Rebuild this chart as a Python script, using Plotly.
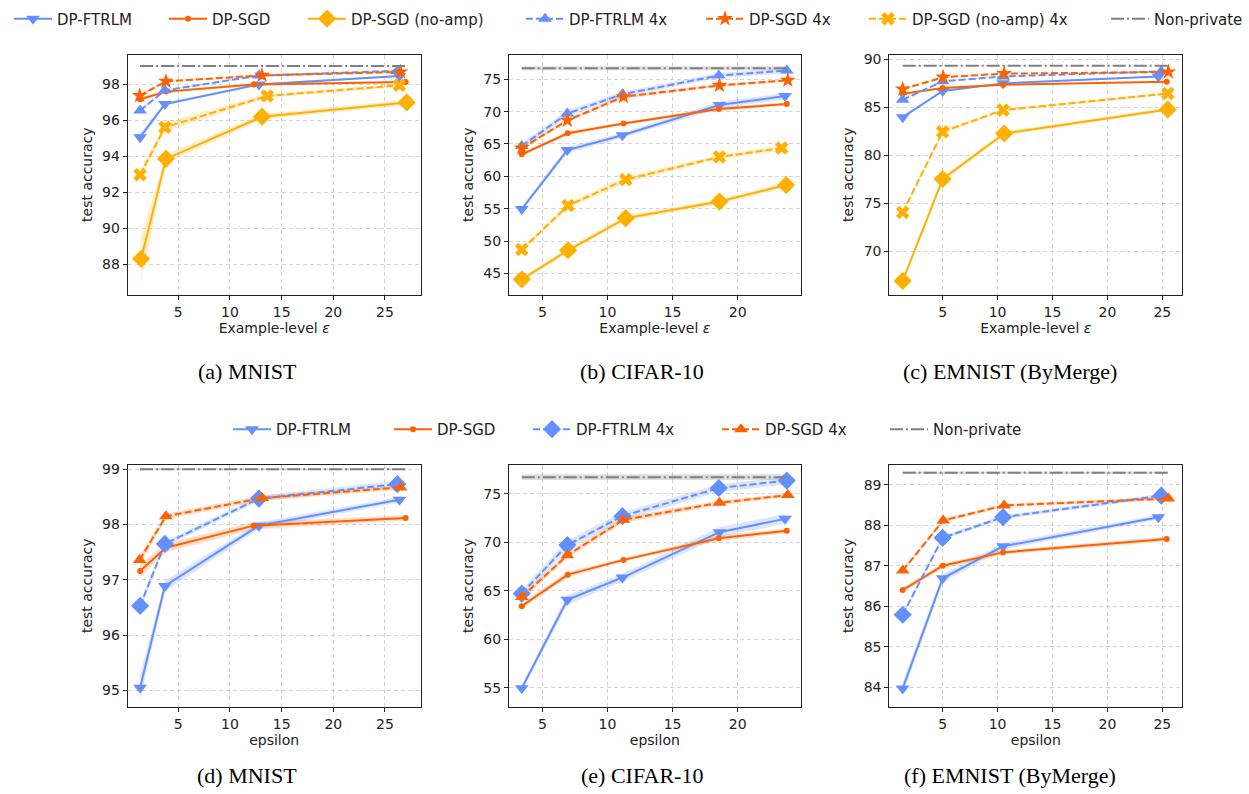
import plotly.graph_objects as go
from plotly.subplots import make_subplots

# ---------------- DATA ----------------
# MNIST
mnist_eps_ftrlm = [1.3, 3.7, 12.8, 26.4]
mnist_ftrlm = [95.05, 96.89, 97.98, 98.45]
mnist_ftrlm_sd = [0.22, 0.10, 0.06, 0.05]
mnist_eps_sgd = [1.3, 3.8, 12.3, 27.0]
mnist_sgd = [97.16, 97.58, 97.98, 98.12]
mnist_sgd_sd = [0.12, 0.08, 0.07, 0.05]
mnist_eps_noamp = [1.4, 3.8, 13.1, 27.1]
mnist_noamp = [88.3, 93.85, 96.19, 96.98]
mnist_noamp_sd = [1.3, 0.25, 0.15, 0.15]
mnist_eps_ftrlm4 = [1.3, 3.7, 12.8, 26.2]
mnist_ftrlm4 = [96.53, 97.65, 98.47, 98.73]
mnist_ftrlm4_sd = [0.07, 0.05, 0.05, 0.06]
mnist_eps_sgd4 = [1.25, 3.8, 13.1, 26.5]
mnist_sgd4 = [97.36, 98.15, 98.48, 98.67]
mnist_sgd4_sd = [0.08, 0.05, 0.05, 0.04]
mnist_eps_noamp4 = [1.3, 3.7, 13.6, 26.4]
mnist_noamp4 = [92.97, 95.6, 97.34, 97.93]
mnist_noamp4_sd = [0.2, 0.25, 0.12, 0.1]
mnist_eps_nonpriv = [1.3, 27.0]
mnist_nonpriv = [99.0, 99.0]
mnist_nonpriv_sd = [0.02, 0.02]

# CIFAR-10
cifar_eps_ftrlm = [3.42, 6.92, 11.15, 18.6, 23.64]
cifar_ftrlm = [54.93, 64.05, 66.35, 71.03, 72.4]
cifar_ftrlm_sd = [0.3, 0.5, 0.4, 0.5, 0.5]
cifar_eps_sgd = [3.42, 6.95, 11.23, 18.55, 23.77]
cifar_sgd = [63.4, 66.65, 68.17, 70.41, 71.17]
cifar_sgd_sd = [0.3, 0.3, 0.2, 0.3, 0.25]
cifar_eps_noamp = [3.42, 6.98, 11.4, 18.6, 23.72]
cifar_noamp = [44.08, 48.57, 53.53, 56.1, 58.65]
cifar_noamp_sd = [0.3, 0.4, 0.4, 0.4, 0.4]
cifar_eps_ftrlm4 = [3.42, 6.92, 11.15, 18.55, 23.77]
cifar_ftrlm4 = [64.7, 69.7, 72.68, 75.58, 76.35]
cifar_ftrlm4_sd = [0.4, 0.5, 0.4, 0.4, 0.4]
cifar_eps_sgd4 = [3.42, 6.92, 11.23, 18.6, 23.85]
cifar_sgd4 = [64.35, 68.65, 72.3, 74.05, 74.85]
cifar_sgd4_sd = [0.3, 0.3, 0.3, 0.25, 0.2]
cifar_eps_noamp4 = [3.42, 6.98, 11.4, 18.6, 23.38]
cifar_noamp4 = [48.68, 55.48, 59.5, 62.99, 64.37]
cifar_noamp4_sd = [0.3, 0.4, 0.5, 0.3, 0.4]
cifar_eps_nonpriv = [3.42, 23.77]
cifar_nonpriv = [76.7, 76.7]
cifar_nonpriv_sd = [0.3, 0.3]

# EMNIST (ByMerge)
emnist_eps_ftrlm = [1.36, 5.0, 10.5, 24.64]
emnist_ftrlm = [83.97, 86.69, 87.48, 88.2]
emnist_ftrlm_sd = [0.15, 0.1, 0.08, 0.06]
emnist_eps_sgd = [1.36, 5.0, 10.5, 25.4]
emnist_sgd = [86.4, 87.0, 87.33, 87.66]
emnist_sgd_sd = [0.06, 0.06, 0.05, 0.06]
emnist_eps_noamp = [1.36, 5.0, 10.6, 25.5]
emnist_noamp = [66.95, 77.54, 82.27, 84.77]
emnist_noamp_sd = [0.2, 0.3, 0.2, 0.2]
emnist_eps_ftrlm4 = [1.36, 5.0, 10.5, 24.9]
emnist_ftrlm4 = [85.79, 87.69, 88.2, 88.73]
emnist_ftrlm4_sd = [0.05, 0.05, 0.05, 0.05]
emnist_eps_sgd4 = [1.36, 5.05, 10.6, 25.55]
emnist_sgd4 = [86.88, 88.12, 88.49, 88.66]
emnist_sgd4_sd = [0.04, 0.05, 0.04, 0.04]
emnist_eps_noamp4 = [1.36, 5.0, 10.5, 25.5]
emnist_noamp4 = [74.07, 82.45, 84.7, 86.43]
emnist_noamp4_sd = [0.15, 0.2, 0.15, 0.15]
emnist_eps_nonpriv = [1.36, 25.5]
emnist_nonpriv = [89.3, 89.3]
emnist_nonpriv_sd = [0.03, 0.03]

captions_top = ["(a) MNIST", "(b) CIFAR-10", "(c) EMNIST (ByMerge)"]
captions_bottom = ["(d) MNIST", "(e) CIFAR-10", "(f) EMNIST (ByMerge)"]

# ---------------- STYLE ----------------
BLUE = "#648FFF"
ORANGE = "#FE6100"
YELLOW = "#FFB000"
GREY = "#808080"
BAND = {BLUE: "rgba(100,143,255,0.22)", ORANGE: "rgba(254,97,0,0.2)",
        YELLOW: "rgba(255,176,0,0.22)", GREY: "rgba(128,128,128,0.25)"}
DASH = "7px,3px"
DASHDOT = "13px,3px,2px,3px"
FONT = "DejaVu Sans"

fig = make_subplots(rows=2, cols=3)

W, H = 1249, 794
col_px = [(127.7, 420.7), (509, 800.7), (889.3, 1182.3)]
row_px = [(51.7, 293.0), (463.3, 706.7)]
caption_cx = [247, 642, 1010]

# legend text start positions (px) for each legend entry
top_legend_text_x = [57, 212, 351, 569, 749, 912, 1154]
bot_legend_text_x = [276, 437, 576, 765, 933]
top_legend_names = ["legend", "legend3", "legend4", "legend5", "legend6", "legend7", "legend8"]
bot_legend_names = ["legend2", "legend9", "legend10", "legend11", "legend12"]


def add_series(row, col, eps, vals, sd, name, color, symbol, msize, dash, legend):
    up = [v + s for v, s in zip(vals, sd)]
    lo = [v - s for v, s in zip(vals, sd)]
    fig.add_trace(go.Scatter(x=list(eps) + list(eps)[::-1], y=up + lo[::-1],
                             fill="toself", fillcolor=BAND[color], line=dict(width=0),
                             mode="lines", hoverinfo="skip", showlegend=False),
                  row=row, col=col)
    return dict(x=eps, y=vals, name=name, color=color, symbol=symbol, msize=msize,
                dash=dash, legend=legend)


def draw_lines(row, col, specs):
    for s in specs:
        mode = "lines" if s["symbol"] is None else "lines+markers"
        marker = dict(symbol=s["symbol"], size=s["msize"], color=s["color"]) if s["symbol"] else None
        kw = dict(showlegend=s["legend"] is not None)
        if s["legend"] is not None:
            kw["legend"] = s["legend"]
        fig.add_trace(go.Scatter(x=s["x"], y=s["y"], name=s["name"], mode=mode,
                                 line=dict(color=s["color"], width=2, dash=s["dash"]),
                                 marker=marker, **kw),
                      row=row, col=col)


datasets = [
    dict(ftrlm=(mnist_eps_ftrlm, mnist_ftrlm, mnist_ftrlm_sd),
         sgd=(mnist_eps_sgd, mnist_sgd, mnist_sgd_sd),
         noamp=(mnist_eps_noamp, mnist_noamp, mnist_noamp_sd),
         ftrlm4=(mnist_eps_ftrlm4, mnist_ftrlm4, mnist_ftrlm4_sd),
         sgd4=(mnist_eps_sgd4, mnist_sgd4, mnist_sgd4_sd),
         noamp4=(mnist_eps_noamp4, mnist_noamp4, mnist_noamp4_sd),
         nonpriv=(mnist_eps_nonpriv, mnist_nonpriv, mnist_nonpriv_sd)),
    dict(ftrlm=(cifar_eps_ftrlm, cifar_ftrlm, cifar_ftrlm_sd),
         sgd=(cifar_eps_sgd, cifar_sgd, cifar_sgd_sd),
         noamp=(cifar_eps_noamp, cifar_noamp, cifar_noamp_sd),
         ftrlm4=(cifar_eps_ftrlm4, cifar_ftrlm4, cifar_ftrlm4_sd),
         sgd4=(cifar_eps_sgd4, cifar_sgd4, cifar_sgd4_sd),
         noamp4=(cifar_eps_noamp4, cifar_noamp4, cifar_noamp4_sd),
         nonpriv=(cifar_eps_nonpriv, cifar_nonpriv, cifar_nonpriv_sd)),
    dict(ftrlm=(emnist_eps_ftrlm, emnist_ftrlm, emnist_ftrlm_sd),
         sgd=(emnist_eps_sgd, emnist_sgd, emnist_sgd_sd),
         noamp=(emnist_eps_noamp, emnist_noamp, emnist_noamp_sd),
         ftrlm4=(emnist_eps_ftrlm4, emnist_ftrlm4, emnist_ftrlm4_sd),
         sgd4=(emnist_eps_sgd4, emnist_sgd4, emnist_sgd4_sd),
         noamp4=(emnist_eps_noamp4, emnist_noamp4, emnist_noamp4_sd),
         nonpriv=(emnist_eps_nonpriv, emnist_nonpriv, emnist_nonpriv_sd)),
]

for c, d in enumerate(datasets, start=1):
    # top row
    lg = top_legend_names if c == 1 else [None] * 7
    specs = [
        add_series(1, c, *d["ftrlm"], "DP-FTRLM", BLUE, "triangle-down", 12, "solid", lg[0]),
        add_series(1, c, *d["sgd"], "DP-SGD", ORANGE, "circle", 6, "solid", lg[1]),
        add_series(1, c, *d["noamp"], "DP-SGD (no-amp)", YELLOW, "diamond", 14, "solid", lg[2]),
        add_series(1, c, *d["ftrlm4"], "DP-FTRLM 4x", BLUE, "triangle-up", 12, DASH, lg[3]),
        add_series(1, c, *d["sgd4"], "DP-SGD 4x", ORANGE, "star", 12, DASH, lg[4]),
        add_series(1, c, *d["noamp4"], "DP-SGD (no-amp) 4x", YELLOW, "x", 12, DASH, lg[5]),
        add_series(1, c, *d["nonpriv"], "Non-private", GREY, None, 0, DASHDOT, lg[6]),
    ]
    draw_lines(1, c, specs)
    # bottom row
    lg2 = bot_legend_names if c == 1 else [None] * 5
    specs = [
        add_series(2, c, *d["ftrlm"], "DP-FTRLM", BLUE, "triangle-down", 12, "solid", lg2[0]),
        add_series(2, c, *d["sgd"], "DP-SGD", ORANGE, "circle", 6, "solid", lg2[1]),
        add_series(2, c, *d["ftrlm4"], "DP-FTRLM 4x", BLUE, "diamond", 14, DASH, lg2[2]),
        add_series(2, c, *d["sgd4"], "DP-SGD 4x", ORANGE, "triangle-up", 12, DASH, lg2[3]),
        add_series(2, c, *d["nonpriv"], "Non-private", GREY, None, 0, DASHDOT, lg2[4]),
    ]
    draw_lines(2, c, specs)

x_ranges = [[0.1, 28.46], [2.44, 24.84], [0.14, 26.82]]
x_ticks = [[5, 10, 15, 20, 25], [5, 10, 15, 20], [5, 10, 15, 20, 25]]
y_ranges_top = [[86.3, 99.64], [41.67, 78.83], [65.5, 90.48]]
y_ticks_top = [[88, 90, 92, 94, 96, 98], [45, 50, 55, 60, 65, 70, 75], [70, 75, 80, 85, 90]]
y_ranges_bot = [[94.70, 99.085], [53.0, 78.0], [83.51, 89.5]]
y_ticks_bot = [[95, 96, 97, 98, 99], [55, 60, 65, 70, 75], [84, 85, 86, 87, 88, 89]]

axis_common = dict(showline=True, mirror=True, linecolor="#222", linewidth=1,
                   ticks="outside", ticklen=4, tickcolor="#222", tickwidth=1,
                   showgrid=True, gridcolor="#d4d4d4", gridwidth=1, griddash="4px,3px",
                   zeroline=False, tickfont=dict(family=FONT, size=14, color="#222"))

for r in range(2):
    for c in range(3):
        idx = r * 3 + c + 1
        xs = "" if idx == 1 else str(idx)
        x0, x1 = col_px[c]
        y0, y1 = row_px[r]
        xtitle = "Example-level <i>ε</i>" if r == 0 else "epsilon"
        fig.layout["xaxis" + xs].update(
            domain=[x0 / W, x1 / W], range=x_ranges[c], tickvals=x_ticks[c],
            title=dict(text=xtitle, font=dict(family=FONT, size=14, color="#222"), standoff=4),
            **axis_common)
        yr = y_ranges_top[c] if r == 0 else y_ranges_bot[c]
        yt = y_ticks_top[c] if r == 0 else y_ticks_bot[c]
        fig.layout["yaxis" + xs].update(
            domain=[1 - y1 / H, 1 - y0 / H], range=yr, tickvals=yt,
            title=dict(text="test accuracy", font=dict(family=FONT, size=14, color="#222"), standoff=6),
            **axis_common)
        cap = captions_top[c] if r == 0 else captions_bottom[c]
        cy = 370 if r == 0 else 775
        fig.add_annotation(text=cap, xref="paper", yref="paper", x=caption_cx[c] / W,
                           y=1 - cy / H, xanchor="center", yanchor="middle", showarrow=False,
                           font=dict(family="Liberation Serif", size=22, color="black"))

legend_style = dict(orientation="h", xanchor="left", yanchor="middle", itemwidth=38,
                    font=dict(family=FONT, size=15, color="#222"), bgcolor="rgba(0,0,0,0)")
layout_legends = {}
for name, tx in zip(top_legend_names, top_legend_text_x):
    layout_legends[name] = dict(x=(tx - 48) / W, y=1 - 16 / H, **legend_style)
for name, tx in zip(bot_legend_names, bot_legend_text_x):
    layout_legends[name] = dict(x=(tx - 48) / W, y=1 - 428 / H, **legend_style)

fig.update_layout(
    width=W, height=H, margin=dict(l=0, r=0, t=0, b=0),
    paper_bgcolor="white", plot_bgcolor="white",
    font=dict(family=FONT, size=14, color="#222"),
    **layout_legends,
)

fig.write_html("out.html")
